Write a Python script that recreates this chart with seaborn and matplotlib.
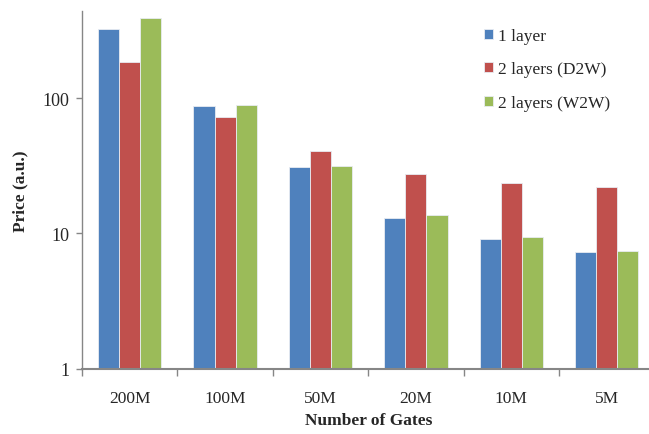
import matplotlib
matplotlib.use('Agg')
import numpy as np
import pandas as pd
import seaborn as sns
from matplotlib import pyplot as plt

gates = ['200M', '100M', '50M', '20M', '10M', '5M']
series = ['1 layer', '2 layers (D2W)', '2 layers (W2W)']
one_layer = [325, 87.3, 31, 13.1, 9.1, 7.3]
two_d2w = [186, 72.8, 40.6, 27.4, 23.8, 22.1]
two_w2w = [392, 89.2, 31.6, 13.6, 9.4, 7.45]
colors = ['#4F81BD', '#C0504D', '#9BBB59']

df = pd.DataFrame({
    'gates': gates * 3,
    'series': np.repeat(series, len(gates)),
    'price': one_layer + two_d2w + two_w2w,
})

sns.set_style('white')
plt.rcParams['font.family'] = ['Liberation Serif', 'DejaVu Serif']
plt.rcParams['font.size'] = 12.5

fig = plt.figure(figsize=(6.49, 4.35), dpi=100)
ax = fig.add_axes([82 / 649, 1 - 369.7 / 435, 572.4 / 649, 357.7 / 435])
ax.set_yscale('log')

sns.barplot(data=df, x='gates', y='price', hue='series', order=gates,
            hue_order=series, palette=colors, saturation=1, width=0.664, gap=0,
            edgecolor='#e8ecf2', linewidth=0.6, ax=ax)

ax.set_ylim(1, 442)
ax.set_xlim(-0.5, 5.5)
ax.set_yticks([1, 10, 100])
ax.set_yticklabels(['1', '10', '100'])
ax.yaxis.set_minor_locator(matplotlib.ticker.NullLocator())
ax.tick_params(axis='y', which='major', length=4, width=1, color='#868686',
               direction='out', left=True, pad=5, labelsize=13)
ax.set_xticks(range(len(gates)))
ax.set_xticklabels(gates)
ax.set_xticks(np.arange(-0.5, 6, 1), minor=True)
ax.tick_params(axis='x', which='major', length=0, pad=15, labelsize=12.5)
ax.tick_params(axis='x', which='minor', length=5, width=1, color='#868686',
               direction='out', bottom=True)

for side in ['top', 'right']:
    ax.spines[side].set_visible(False)
ax.spines['left'].set_color('#868686')
ax.spines['left'].set_linewidth(1)
ax.spines['bottom'].set_color('#868686')
ax.spines['bottom'].set_linewidth(1.5)

ax.set_ylabel('Price (a.u.)', fontsize=12.5, fontweight='bold')
ax.yaxis.set_label_coords(-0.094, 0.5)
ax.set_xlabel('Number of Gates', fontsize=12.5, fontweight='bold')
ax.xaxis.set_label_coords(0.5, -0.12)

handles, labels = ax.get_legend_handles_labels()
ax.legend(handles, labels, loc='upper left', bbox_to_anchor=(484 / 649, 1 - 29 / 435),
          bbox_transform=fig.transFigure, frameon=False, fontsize=12.5,
          handlelength=0.5, handleheight=0.5, handletextpad=0.3,
          labelspacing=1.0, borderpad=0, borderaxespad=0)

fig.savefig('out.png', dpi=100)
